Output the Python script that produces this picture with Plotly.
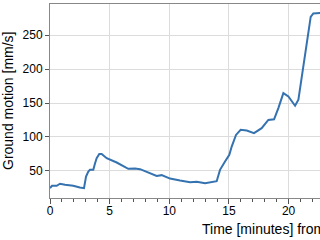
import plotly.graph_objects as go

# Time [minutes] and ground motion [mm/s]
time_min = [0.0, 0.17, 0.56, 0.84, 1.26, 1.95, 2.5, 2.85, 3.02, 3.21, 3.35, 3.63, 3.77, 3.91,
            4.13, 4.33, 4.75, 5.59, 6.56, 7.13, 7.55, 8.1, 8.94, 9.36, 10.06, 10.9, 11.74,
            12.3, 13.0, 13.97, 14.25, 14.67, 15.03, 15.23, 15.59, 15.98, 16.49, 17.1, 17.74,
            18.3, 18.78, 19.14, 19.56, 19.98, 20.54, 20.82, 21.1, 21.38, 21.65, 21.85,
            22.07, 22.4, 22.7]
motion = [24.5, 28, 28, 31, 29.4, 28, 25.4, 24.5, 41.6, 49, 51.5, 51.5, 61, 68.7,
          75, 75, 68.7, 62.3, 53, 53.4, 52.5, 49, 42.6, 43.7, 38.6, 35.7, 33.3,
          33.8, 31.9, 34.8, 51.5, 63.7, 73.6, 85.8, 103, 110.5, 109.4, 105.6, 113,
          125, 126, 142.5, 164.6, 159.6, 146, 155, 189, 220, 260, 277,
          282, 283, 283]

x_ticks = [0, 5, 10, 15, 20]
y_ticks = [50, 100, 150, 200, 250]

fig = go.Figure()
fig.add_trace(go.Scatter(x=time_min, y=motion, mode="lines",
                         line=dict(color="#3572b0", width=2)))

font = "Liberation Sans, Arial, sans-serif"
fig.update_layout(
    width=320, height=240,
    margin=dict(l=50, r=0, t=4, b=42),
    plot_bgcolor="white", paper_bgcolor="white",
    showlegend=False,
    font=dict(family=font, size=12, color="#000"),
    xaxis=dict(range=[0, 22.63], tickvals=x_ticks, ticks="outside", ticklen=5,
               tickcolor="#555", showline=True, linecolor="#888", mirror=True,
               showgrid=True, gridcolor="#dcdcdc", gridwidth=1, zeroline=False,
               ticklabelstandoff=-3,
               minor=dict(dtick=1, ticks="outside", ticklen=3, tickcolor="#555", showgrid=False),
               tickfont=dict(size=12)),
    yaxis=dict(range=[10, 296], tickvals=y_ticks, ticks="outside", ticklen=4,
               tickcolor="#555", showline=True, linecolor="#888", mirror=False,
               showgrid=True, gridcolor="#dcdcdc", gridwidth=1, zeroline=False,
               tickfont=dict(size=12)),
    annotations=[
        dict(text="Time [minutes] from 2017-01-01 00:00:00 UTC", xref="paper", yref="paper",
             x=(200 - 50) / 270, y=-31 / 194, xanchor="left", yanchor="middle",
             showarrow=False, font=dict(size=14, family=font)),
        dict(text="Ground motion [mm/s]", xref="paper", yref="paper",
             x=-42 / 270, y=0.5, xanchor="center", yanchor="middle", textangle=-90,
             showarrow=False, font=dict(size=14, family=font)),
    ],
)

fig.write_html("out.html")
